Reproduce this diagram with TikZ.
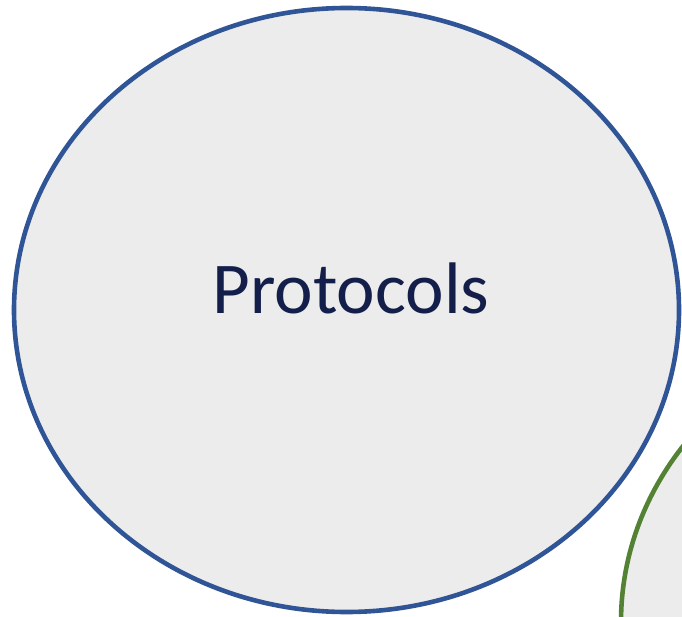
\documentclass[tikz,border=0pt]{standalone}
\usepackage{fontspec}
\setmainfont{Carlito}
\usepackage{xcolor}
\usetikzlibrary{positioning}

\definecolor{ringblue}{HTML}{2F5597}
\definecolor{ringgreen}{HTML}{548235}
\definecolor{discfill}{HTML}{ECECEC}
\definecolor{labelnavy}{HTML}{131F4A}

\tikzset{
  disc/.style={fill=discfill, line width=4.6pt},
  disclabel/.style={text=labelnavy, font=\fontsize{73}{80}\selectfont, inner sep=0pt}
}

\begin{document}
\begin{tikzpicture}[x=1pt, y=-1pt]
  \useasboundingbox (0,0) rectangle (682,617);

  % Kreis rechts unten (nur angeschnitten)
  \begin{scope}
    \clip (0,0) rectangle (682,617);
    \draw[disc, draw=ringgreen] (955,622) ellipse [x radius=334, y radius=303];
  \end{scope}

  % Hauptkreis
  \draw[disc, draw=ringblue] (346.5,310) ellipse [x radius=332.5, y radius=302];

  % Beschriftung
  \node[disclabel, anchor=base] (protocols) at (351,313) {Protocols};
\end{tikzpicture}
\end{document}
